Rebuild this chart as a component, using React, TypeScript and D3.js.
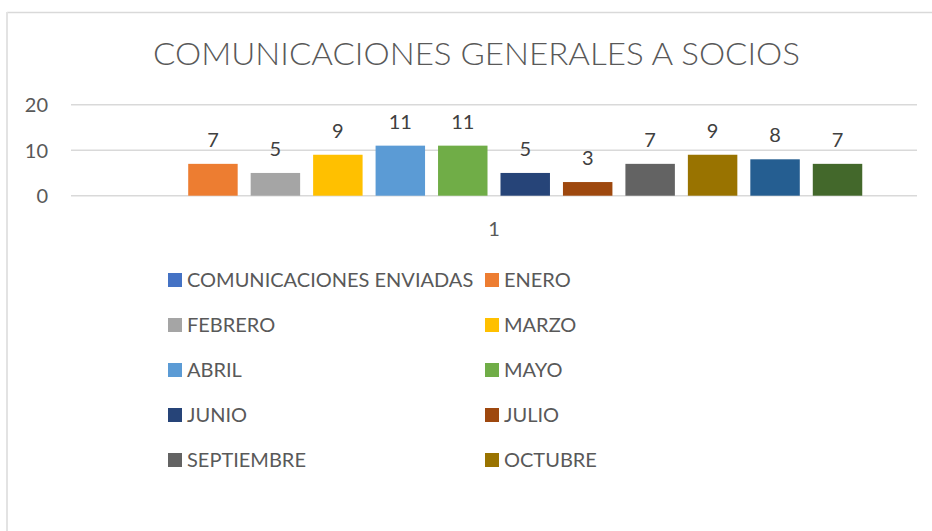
import React from "react";
import * as d3 from "d3";

const title = "COMUNICACIONES GENERALES A SOCIOS";
const categories = ["1"];
const seriesNames = [
  "COMUNICACIONES ENVIADAS",
  "ENERO",
  "FEBRERO",
  "MARZO",
  "ABRIL",
  "MAYO",
  "JUNIO",
  "JULIO",
  "SEPTIEMBRE",
  "OCTUBRE",
  "NOVIEMBRE",
  "DICIEMBRE",
];
const seriesValues: (number | null)[] = [null, 7, 5, 9, 11, 11, 5, 3, 7, 9, 8, 7];
const seriesColors = [
  "#4472C4",
  "#ED7D31",
  "#A5A5A5",
  "#FFC000",
  "#5B9BD5",
  "#70AD47",
  "#264478",
  "#9E480E",
  "#636363",
  "#997300",
  "#255E91",
  "#43682B",
];
const yTicks = [0, 10, 20];
const legendVisibleCount = 10;

const W = 932;
const H = 531;
const FONT = "Lato, 'Open Sans', 'DejaVu Sans', sans-serif";

export default function App() {
  const plotLeft = 71;
  const plotRight = 917;
  const y = d3.scaleLinear().domain([0, 20]).range([195.7, 104.7]);
  const x0 = d3.scaleBand().domain(categories).range([plotLeft, plotRight]);
  const catCenter = (x0(categories[0]) as number) + x0.bandwidth() / 2;
  const groupHalf = 368.25;
  const x1 = d3
    .scaleBand()
    .domain(seriesNames)
    .range([catCenter - groupHalf, catCenter + groupHalf])
    .paddingInner(0.208)
    .paddingOuter(0);

  const legendItems = seriesNames.slice(0, legendVisibleCount);

  return (
    <svg
      width={W}
      height={H}
      style={{ position: "absolute", left: 0, top: 0, background: "#fff" }}
      fontFamily={FONT}
    >
      {/* chart border */}
      <line x1={7} y1={12.5} x2={W} y2={12.5} stroke="#D9D9D9" strokeWidth={1.5} />
      <line x1={7} y1={12} x2={7} y2={H} stroke="#E3E3E3" strokeWidth={2} />

      {/* title */}
      <text
        x={476.5}
        y={65}
        textAnchor="middle"
        fontSize={31}
        fontWeight={300}
        fill="#595959"
        textLength={647}
        lengthAdjust="spacingAndGlyphs"
      >
        {title}
      </text>

      {/* gridlines */}
      {yTicks.map((t) => (
        <g key={t}>
          <line
            x1={plotLeft}
            x2={plotRight}
            y1={y(t)}
            y2={y(t)}
            stroke="#D9D9D9"
            strokeWidth={1.5}
          />
          <text
            x={48}
            y={y(t) + 7.5}
            textAnchor="end"
            fontSize={20}
            fill="#595959"
          >
            {t}
          </text>
        </g>
      ))}

      {/* bars */}
      {seriesNames.map((name, i) => {
        const v = seriesValues[i];
        if (v === null || v === undefined) return null;
        const bx = x1(name) as number;
        return (
          <g key={name}>
            <rect
              x={bx}
              y={y(v)}
              width={x1.bandwidth()}
              height={y(0) - y(v)}
              fill={seriesColors[i]}
            />
            <text
              x={bx + x1.bandwidth() / 2}
              y={y(v) - 17}
              textAnchor="middle"
              fontSize={20}
              fill="#404040"
            >
              {v}
            </text>
          </g>
        );
      })}

      {/* category label */}
      <text x={catCenter} y={236} textAnchor="middle" fontSize={20} fill="#595959">
        {categories[0]}
      </text>

      {/* legend */}
      {legendItems.map((name, i) => {
        const col = i % 2;
        const row = Math.floor(i / 2);
        const lx = col === 0 ? 168 : 485;
        const cy = 280 + row * 45;
        return (
          <g key={name}>
            <rect x={lx} y={cy - 7} width={14} height={14} fill={seriesColors[i]} />
            <text x={lx + 19} y={cy + 7.3} fontSize={20} fill="#595959">
              {name}
            </text>
          </g>
        );
      })}
    </svg>
  );
}
